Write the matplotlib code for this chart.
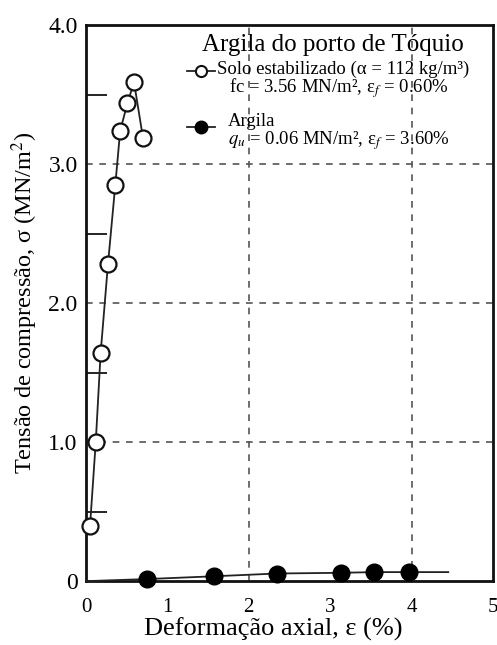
import matplotlib
matplotlib.use("Agg")
import matplotlib.pyplot as plt
from matplotlib.lines import Line2D

plt.rcParams['font.family'] = ['Liberation Serif', 'DejaVu Serif']
plt.rcParams['mathtext.fontset'] = 'stix'

# solo estabilizado (círculos abertos)
strain_stab = [0.05, 0.12, 0.18, 0.27, 0.36, 0.42, 0.51, 0.59, 0.70]
stress_stab = [0.40, 1.00, 1.64, 2.28, 2.85, 3.24, 3.44, 3.59, 3.19]

# argila (círculos cheios) - primeiro e último ponto sem marcador
strain_clay = [0.0, 0.75, 1.57, 2.35, 3.13, 3.54, 3.97, 4.45]
stress_clay = [0.0, 0.015, 0.035, 0.055, 0.06, 0.065, 0.065, 0.065]

xticks = [0, 1, 2, 3, 4, 5]
xticklabels = ['0', '1', '2', '3', '4', '5']
yticks = [0, 1, 2, 3, 4]
yticklabels = ['0', '1.0', '2.0', '3.0', '4.0']
x_grid = [2, 4]
y_grid = [1, 2, 3]
x_minor = [1, 3]
y_minor = [0.5, 1.5, 2.5, 3.5]

fig = plt.figure(figsize=(4.97, 6.45), dpi=100)
ax = fig.add_axes([0.173, 0.099, 0.819, 0.862])

# grade tracejada
for gx in x_grid:
    ax.axvline(gx, color='#555555', lw=1.2, ls=(0, (4, 4)), zorder=1)
for gy in y_grid:
    ax.axhline(gy, color='#555555', lw=1.2, ls=(0, (4, 4)), zorder=1)

ax.plot(strain_stab, stress_stab, '-o', color='#222222', lw=1.3,
        ms=11.5, mfc='white', mec='#111111', mew=1.6, zorder=3, clip_on=False)
ax.plot(strain_clay, stress_clay, '-o', color='#222222', lw=1.3,
        ms=12, mfc='black', mec='black', markevery=[1, 2, 3, 4, 5, 6],
        zorder=3, clip_on=False)

ax.set_xlim(0, 5)
ax.set_ylim(0, 4)
ax.set_xticks(xticks)
ax.set_xticklabels(xticklabels)
ax.set_yticks(yticks)
ax.set_yticklabels(yticklabels)
ax.set_xticks(x_minor, minor=True)
ax.set_yticks(y_minor, minor=True)
ax.tick_params(axis='both', which='major', length=0)
ax.tick_params(axis='x', which='major', pad=12, labelsize=15)
ax.tick_params(axis='y', which='major', pad=6, labelsize=17)
ax.tick_params(axis='x', which='minor', direction='in', length=12, width=1.2)
ax.tick_params(axis='y', which='minor', direction='in', length=15, width=1.2)

for s in ax.spines.values():
    s.set_linewidth(2.0)
    s.set_color('#111111')

ax.set_xlabel('Deformação axial, ε (%)', fontsize=19)
ax.xaxis.set_label_coords(0.461, -0.066)
ax.set_ylabel('Tensão de compressão, σ (MN/m$^2$)', fontsize=17.5, labelpad=6)

# legenda
tr = ax.transAxes
ax.text(0.607, 0.964, 'Argila do porto de Tóquio', transform=tr,
        ha='center', va='center', fontsize=18)
ax.add_line(Line2D([0.248, 0.317], [0.918, 0.918], transform=tr, color='#222222', lw=1.3))
ax.plot([0.283], [0.918], 'o', transform=tr, ms=8, mfc='white', mec='#111111', mew=1.5)
ax.text(0.322, 0.921, 'Solo estabilizado (α = 112 kg/m³)', transform=tr,
        ha='left', va='center', fontsize=13.5)
ax.text(0.351, 0.886, 'fc = 3.56 MN/m², ε$_f$ = 0.60%', transform=tr,
        ha='left', va='center', fontsize=13.5)
ax.add_line(Line2D([0.248, 0.317], [0.817, 0.817], transform=tr, color='#222222', lw=1.3))
ax.plot([0.283], [0.817], 'o', transform=tr, ms=9, mfc='black', mec='black')
ax.text(0.349, 0.827, 'Argila', transform=tr, ha='left', va='center', fontsize=13.5)
ax.text(0.349, 0.792, '$q_u$ = 0.06 MN/m², ε$_f$ = 3.60%', transform=tr,
        ha='left', va='center', fontsize=13.5)

fig.savefig('out.png', dpi=100)
